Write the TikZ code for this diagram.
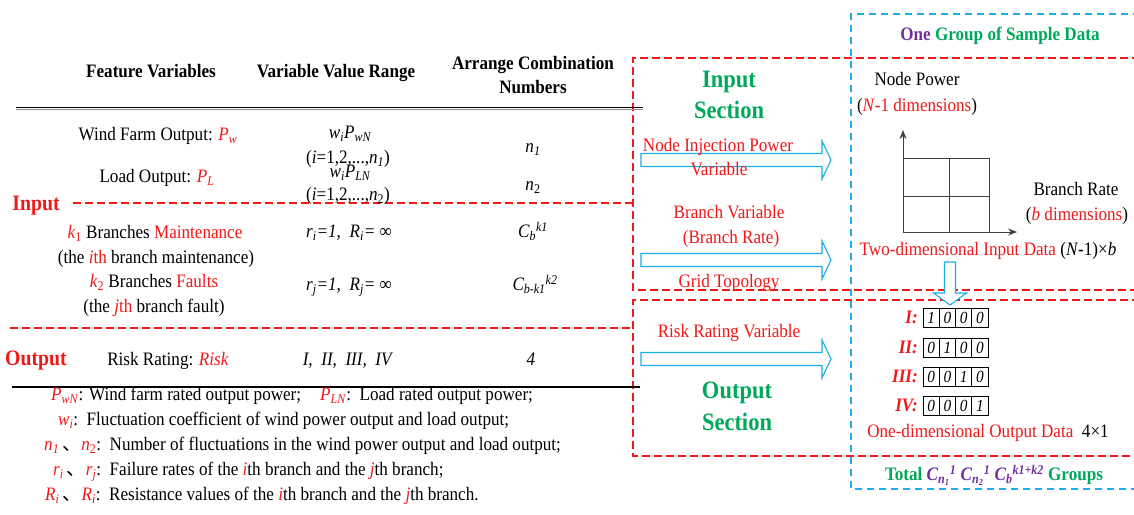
\documentclass[tikz,border=0pt]{standalone}
\usepackage{fontspec}
\setmainfont{Liberation Serif}[FakeStretch=0.9]
\newfontfamily\cjk{Noto Sans CJK SC}
\usetikzlibrary{arrows.meta}
\definecolor{rd}{HTML}{F01818}
\definecolor{gn}{HTML}{00A859}
\definecolor{pp}{HTML}{7030A0}
\definecolor{bl}{HTML}{1AAEEA}
\definecolor{axgray}{HTML}{404040}
\newcommand\sbs[1]{\textsubscript{#1}}
\newcommand\sps[1]{\textsuperscript{#1}}
\newcommand\rt[1]{\textcolor{rd}{#1}}
\newcommand\bodyfs{\fontsize{19}{22}\selectfont}
\newcommand\bigfs{\fontsize{22}{25}\selectfont}
\newcommand\secfs{\fontsize{25}{31}\selectfont}
% horizontal block arrow: shaft left x, tip x, centre y
\newcommand\hblock[3]{%
  \draw[barrow] (#1,#3-6.5) -- (#2-9,#3-6.5) -- (#2-9,#3-19) -- (#2,#3)
    -- (#2-9,#3+19) -- (#2-9,#3+6.5) -- (#1,#3+6.5) -- cycle;}
\tikzset{
  tx/.style={inner sep=0pt, font=\bodyfs, text height=1.1em, text depth=0em},
  hd/.style={tx, font=\bodyfs\bfseries},
  red/.style={tx, text=rd},
  rdash/.style={draw=rd, line width=1.2pt, dash pattern=on 8pt off 4pt},
  bdash/.style={draw=bl, line width=1.1pt, dash pattern=on 7pt off 5pt},
  barrow/.style={draw=bl, line width=1.1pt, fill=white},
  cell/.style={draw, line width=0.9pt, minimum width=16.25pt, minimum height=19pt,
    inner sep=0pt, font=\fontsize{17}{19}\selectfont\itshape},
  rowlab/.style={tx, anchor=east, text=rd, font=\bodyfs\bfseries\itshape},
  grid/.style={draw=axgray, line width=1pt},
}
\begin{document}
\begin{tikzpicture}[x=1pt,y=-1pt]
\useasboundingbox (0,0) rectangle (1134,514);

% ---------- frames ----------
\draw[rdash] (1140,58) -- (633,58) -- (633,290) -- (1140,290);
\draw[rdash] (1140,300) -- (633,300) -- (633,456) -- (1140,456);
\draw[bdash] (1140,14) -- (851,14) -- (851,489) -- (1140,489);

% ---------- table rules ----------
\draw[line width=1.3pt] (16,107.5) -- (643,107.5);
\draw[line width=0.8pt, black!45] (16,109.6) -- (643,109.6);
\draw[rdash] (73,203) -- (633,203);
\draw[rdash] (10,328) -- (633,328);
\draw[line width=1.2pt] (12,387) -- (640,387);

% ---------- table header ----------
\node[hd] (h1) at (151,72) {Feature Variables};
\node[hd] (h2) at (336,72) {Variable Value Range};
\node[hd] (h3a) at (533,64) {Arrange Combination};
\node[hd] (h3b) at (533,88) {Numbers};

% ---------- input rows ----------
\node[tx, text=rd, font=\bigfs\bfseries] (inlab) at (36,205) {Input};
\node[tx] (f1) at (158,135) {Wind Farm Output: \rt{\textit{P}\sbs{\textit{w}}}};
\node[tx] (v1a) at (350,133) {\textit{w\sbs{i}P\sbs{wN}}};
\node[tx] (v1b) at (348,158) {(\textit{i}=1,2,...,\textit{n}\sbs{\textit{1}})};
\node[tx] (n1) at (533,147) {\textit{n\sbs{1}}};
\node[tx] (f2) at (157,177) {Load Output: \rt{\textit{P}\sbs{\textit{L}}}};
\node[tx] (v2a) at (350,172) {\textit{w\sbs{i}P\sbs{LN}}};
\node[tx] (v2b) at (348,195) {(\textit{i}=1,2,...,\textit{n}\sbs{2})};
\node[tx] (n2) at (533,185) {\textit{n}\sbs{2}};
\node[tx] (f3a) at (155,233) {\rt{\textit{k}\sbs{1}} Branches \rt{Maintenance}};
\node[tx] (f3b) at (156,258) {(the \rt{\textit{i}th} branch maintenance)};
\node[tx] (v3) at (349,232) {\textit{r\sbs{i}=1,\ \ R\sbs{i}=} ∞};
\node[tx] (c3) at (533,232) {\textit{C\sbs{b}\sps{k1}}};
\node[tx] (f4a) at (154,282) {\rt{\textit{k}\sbs{2}} Branches \rt{Faults}};
\node[tx] (f4b) at (154,307) {(the \rt{\textit{j}th} branch fault)};
\node[tx] (v4) at (349,285) {\textit{r\sbs{j}=1,\ \ R\sbs{j}=} ∞};
\node[tx] (c4) at (535,285) {\textit{C\sbs{b-k1}\sps{k2}}};

% ---------- output row ----------
\node[tx, text=rd, font=\bigfs\bfseries] (outlab) at (36,360) {Output};
\node[tx] (f5) at (168,360) {Risk Rating: \rt{\textit{Risk}}};
\node[tx] (v5) at (348,360) {\textit{I,\ \ II,\ \ III,\ \ IV}};
\node[tx] (c5) at (531,360) {\textit{4}};

% ---------- notes ----------
\node[tx, anchor=west] (l1) at (51,395) {\rt{\textit{P}\sbs{\textit{wN}}}: Wind farm rated output power;\quad \rt{\textit{P}\sbs{\textit{LN}}}:\ \ Load rated output power;};
\node[tx, anchor=west] (l2) at (58,420) {\rt{\textit{w}\sbs{\textit{i}}}:\ \ Fluctuation coefficient of wind power output and load output;};
\node[tx, anchor=west] (l3) at (44,445) {\rt{\textit{n}\sbs{\textit{1}}}\,{\cjk 、}\rt{\textit{n}\sbs{2}}:\ \ Number of fluctuations in the wind power output and load output;};
\node[tx, anchor=west] (l4) at (53,470) {\rt{\textit{r}\sbs{\textit{i}}}\,{\cjk 、}\rt{\textit{r}\sbs{\textit{j}}}:\ \ Failure rates of the \rt{\textit{i}}th branch and the \rt{\textit{j}}th branch;};
\node[tx, anchor=west] (l5) at (45,495) {\rt{\textit{R}\sbs{\textit{i}}}\,{\cjk 、}\rt{\textit{R}\sbs{\textit{i}}}:\ \ Resistance values of the \rt{\textit{i}}th branch and the \rt{\textit{j}}th branch.};

% ---------- input / output sections ----------
\hblock{641}{831}{160}
\hblock{641}{831}{260}
\hblock{641}{831}{359}
\node[tx, text=gn, font=\secfs\bfseries] (ins1) at (729,82) {Input};
\node[tx, text=gn, font=\secfs\bfseries] (ins2) at (729,113) {Section};
\node[red] (a1a) at (718,146) {Node Injection Power};
\node[red] (a1b) at (719,170) {Variable};
\node[red] (a2a) at (729,213) {Branch Variable};
\node[red] (a2b) at (731,238) {(Branch Rate)};
\node[red] (a2c) at (729,282) {Grid Topology};
\node[red] (a3) at (729,332) {Risk Rating Variable};
\node[tx, text=gn, font=\secfs\bfseries] (outs1) at (737,393) {Output};
\node[tx, text=gn, font=\secfs\bfseries] (outs2) at (737,425) {Section};

% ---------- sample data ----------
\node[hd] (title) at (1000,35) {\textcolor{pp}{One} \textcolor{gn}{Group of Sample Data}};
\node[tx] (np1) at (917,80) {Node Power};
\node[tx] (np2) at (917,106) {(\rt{\textit{N}-1 dimensions})};
\coordinate (o) at (903,232);
\coordinate (ytop) at (903,130);
\coordinate (xend) at (1017,232);
\draw[grid] (903,158) rectangle (989,232);
\draw[grid] (949,158) -- (949,232);
\draw[grid] (903,196) -- (989,196);
\draw[grid, -{Stealth[length=9pt,width=7pt]}] (o) -- (ytop);
\draw[grid, -{Stealth[length=9pt,width=7pt]}] (o) -- (xend);
\node[tx] (br1) at (1076,190) {Branch Rate};
\node[tx] (br2) at (1077,215) {(\rt{\textit{b} dimensions})};
\node[tx] (two) at (988,250) {\rt{Two-dimensional Input Data} (\textit{N}-1)×\textit{b}};
\draw[barrow] (944.5,262) -- (955.5,262) -- (955.5,293) -- (966.5,293) -- (950,305)
  -- (933.5,293) -- (944.5,293) -- cycle;

\foreach \r/\lab/\yy in {1/I/317.5, 2/II/348, 3/III/377, 4/IV/406} {
  \node[rowlab] (lab\r) at (918,\yy) {\lab:};
  \foreach \c in {1,2,3,4} {
    \pgfmathtruncatemacro\bit{\c==\r ? 1 : 0}
    \node[cell] (cell\r\c) at ({923+16.25*(\c-0.5)},\yy) {\bit};
  }
}
\node[tx] (one) at (988,432) {\rt{One-dimensional Output Data}\ \ 4×1};
\node[tx, font=\bodyfs\bfseries] (total) at (994,475)
  {\textcolor{gn}{Total} \textcolor{pp}{\itshape C\sbs{n\sbs{1}}\sps{1} C\sbs{n\sbs{2}}\sps{1} C\sbs{b}\sps{k1+k2}} \textcolor{gn}{Groups}};
\end{tikzpicture}
\end{document}
